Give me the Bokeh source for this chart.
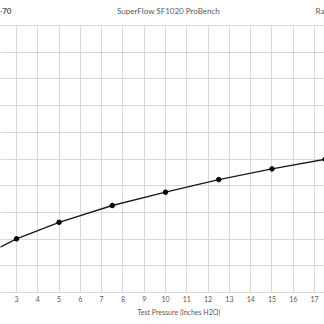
from bokeh.plotting import figure
from bokeh.models import FixedTicker, ColumnDataSource, Title, BoxAnnotation
from bokeh.core.properties import value
from bokeh.embed import file_html
from bokeh.resources import INLINE

pressure = [2, 3, 5, 7.5, 10, 12.5, 15, 17.5]
flow = [1.60, 2.01, 2.63, 3.26, 3.76, 4.23, 4.63, 4.99]
x_ticks = list(range(2, 19))
y_ticks = list(range(0, 11))
title_text = "SuperFlow SF1020 ProBench"
left_text = "-70"
right_text = "Ra"
x_label = "Test Pressure (Inches H2O)"

FONT = "Lato"
GREY = "#595959"
GRID = "#d9d9d9"

# frame spans the canvas top so the header texts can be drawn inside it
p = figure(width=324, height=324, output_backend="svg", toolbar_location=None,
           x_range=(2.249, 17.467), y_range=(0, 10.94),
           min_border_left=0, min_border_right=0, min_border_top=0, min_border_bottom=32)
p.outline_line_color = None
p.yaxis.visible = False
p.xaxis.ticker = FixedTicker(ticks=x_ticks)
p.xaxis.axis_line_color = GRID
p.xaxis.major_tick_line_color = None
p.xaxis.major_tick_out = 0
p.xaxis.major_tick_in = 0
p.xaxis.minor_tick_line_color = None
p.xaxis.major_label_text_font = FONT
p.xaxis.major_label_text_font_size = "7px"
p.xaxis.major_label_text_color = GREY
p.xaxis.major_label_standoff = 3
p.xgrid.ticker = FixedTicker(ticks=x_ticks)
p.ygrid.ticker = FixedTicker(ticks=y_ticks)
p.xgrid.grid_line_color = GRID
p.ygrid.grid_line_color = GRID

# blank the header strip above the plot area
p.add_layout(BoxAnnotation(bottom=10.03, fill_color="white", fill_alpha=1.0,
                           line_alpha=0, level="underlay"))

src = ColumnDataSource(dict(x=pressure, y=flow))
p.line("x", "y", source=src, line_color="#1a1a1a", line_width=1.4)
p.scatter("x", "y", source=src, size=4.5, color="#000000")

p.text(x=[10.14], y=[10.56], text=[title_text], text_align="center", text_baseline="middle",
       text_font=value(FONT), text_font_size="8px", text_color=GREY)
p.text(x=[2.249], y=[10.56], x_offset=11, text=[left_text], text_align="right",
       text_baseline="middle", text_font=value(FONT), text_font_size="8px",
       text_font_style="bold", text_color=GREY)
p.text(x=[17.467], y=[10.56], text=[right_text], text_align="right", text_baseline="middle",
       text_font=value(FONT), text_font_size="8px", text_color=GREY)

p.add_layout(Title(text=x_label, align="left", offset=137, standoff=2, text_font=FONT,
                   text_font_size="7px", text_font_style="normal", text_color=GREY), "below")

open("out.html", "w").write(file_html(p, INLINE))
